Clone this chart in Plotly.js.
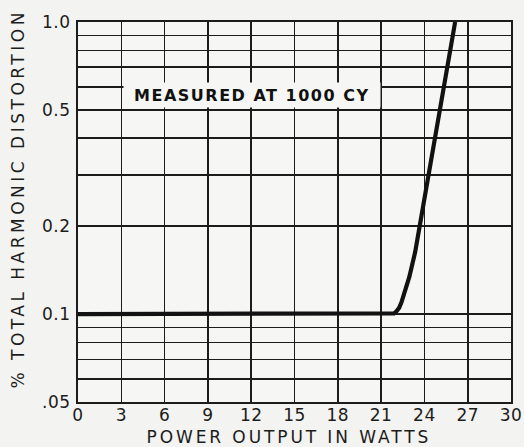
<!DOCTYPE html>
<html>
<head>
<meta charset="utf-8">
<script src="https://cdn.plot.ly/plotly-3.0.1.min.js"></script>
<style>html,body{margin:0;padding:0;background:#f3f3f1;}#chart{width:524px;height:447px;}</style>
</head>
<body>
<div id="chart"></div>
<script>
// Power output (W) and % total harmonic distortion
const powerWatts = [0, 21.7, 21.9, 22.05, 22.25, 22.41, 22.64, 22.95, 23.36, 23.68, 24.27, 24.7, 25.05, 25.34, 25.58, 25.79, 25.97, 26.13];
const distortionPct = [0.1, 0.1, 0.1005, 0.102, 0.105, 0.1097, 0.1187, 0.1337, 0.163, 0.2, 0.3, 0.4, 0.5, 0.6, 0.7, 0.8, 0.9, 1.0];

const xTickVals = [0, 3, 6, 9, 12, 15, 18, 21, 24, 27, 30];
const xTickText = ['0', '3', '6', '9', '12', '15', '18', '21', '24', '27', '30'];
const yTickVals = [0.05, 0.06, 0.07, 0.08, 0.09, 0.1, 0.2, 0.3, 0.4, 0.5, 0.6, 0.7, 0.8, 0.9, 1.0];
const yTickText = ['.05', '', '', '', '', '0.1', '0.2', '', '', '0.5', '', '', '', '', '1.0'];

const noteText = 'MEASURED AT 1000 CY';
const xTitle = 'POWER OUTPUT IN WATTS';
const yTitle = '% TOTAL HARMONIC DISTORTION';

const ink = '#1c1c1c';
const font = 'DejaVu Sans, Liberation Sans, sans-serif';

const trace = {
  x: powerWatts,
  y: distortionPct,
  type: 'scatter',
  mode: 'lines',
  line: {color: '#121212', width: 4.2, shape: 'linear'},
  hoverinfo: 'skip'
};

const layout = {
  width: 524,
  height: 447,
  margin: {l: 78, r: 13, t: 22, b: 45},
  paper_bgcolor: '#f3f3f1',
  plot_bgcolor: '#f6f6f4',
  showlegend: false,
  font: {family: font, color: ink, size: 15},
  xaxis: {
    range: [0, 30],
    tickvals: xTickVals,
    ticktext: xTickText,
    showgrid: true,
    gridcolor: ink,
    gridwidth: 1.6,
    zeroline: false,
    showline: true,
    linecolor: ink,
    linewidth: 2,
    mirror: true,
    ticks: '',
    ticklabelstandoff: -3,
    tickfont: {family: font, size: 17, color: ink},
    fixedrange: true
  },
  yaxis: {
    type: 'log',
    range: [Math.log10(0.05), 0],
    tickvals: yTickVals,
    ticktext: yTickText,
    showgrid: true,
    gridcolor: ink,
    gridwidth: 1.6,
    zeroline: false,
    showline: true,
    linecolor: ink,
    linewidth: 2,
    mirror: true,
    ticks: '',
    ticklabelstandoff: 2,
    tickfont: {family: font, size: 17, color: ink},
    fixedrange: true
  },
  annotations: [
    {
      text: noteText,
      x: 12.06, y: Math.log10(0.563),
      xref: 'x', yref: 'y',
      xanchor: 'center', yanchor: 'middle',
      showarrow: false,
      bgcolor: '#f6f6f4',
      width: 256, height: 24,
      borderpad: 0,
      font: {family: font, size: 16, color: '#111', weight: 'bold'}
    },
    {
      text: xTitle,
      x: 0.487, y: -0.092,
      xref: 'paper', yref: 'paper',
      xanchor: 'center', yanchor: 'middle',
      showarrow: false,
      font: {family: font, size: 17, color: ink}
    },
    {
      text: yTitle,
      x: -0.1386, y: 0.536,
      xref: 'paper', yref: 'paper',
      xanchor: 'center', yanchor: 'middle',
      textangle: -90,
      showarrow: false,
      font: {family: font, size: 17, color: ink}
    }
  ]
};

const spacing = [1.5, 2.9, 3.5];
Plotly.newPlot('chart', [trace], layout, {displayModeBar: false, staticPlot: true}).then(function (gd) {
  gd.querySelectorAll('.annotation-text').forEach(function (t, i) {
    t.style.letterSpacing = (spacing[i] || 0) + 'px';
  });
  gd.querySelectorAll('.xtick text, .ytick text').forEach(function (t) {
    t.style.letterSpacing = '0.5px';
  });
});
</script>
</body>
</html>
